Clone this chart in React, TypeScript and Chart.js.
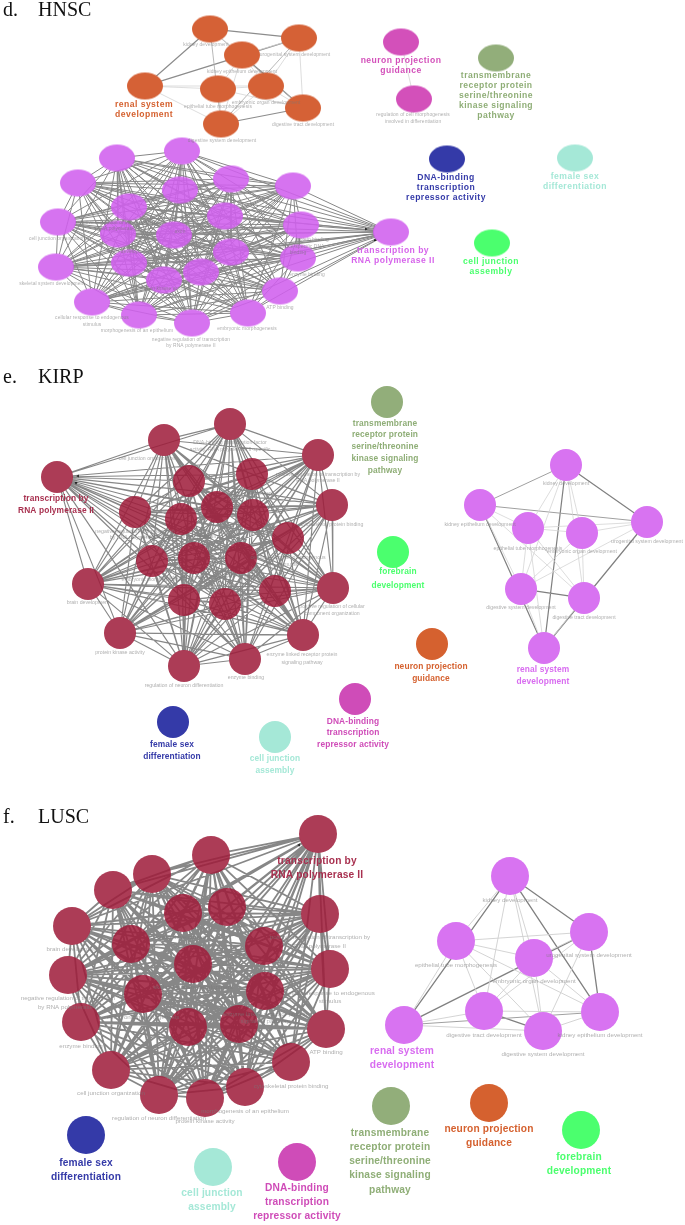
import React, { useEffect, useRef } from "react";
import { Chart, registerables } from "chart.js";

Chart.register(...registerables);

type Pair = [number, number];

// ---------- HNSC ----------
const hnscRenalX = [210, 299, 242, 145, 218, 266, 303, 221];
const hnscRenalY = [29, 38, 55, 86, 89, 86, 108, 124];
const hnscRenalStrong: Pair[] = [[3, 0], [3, 1], [0, 1], [7, 6], [2, 6]];
const hnscRenalMid: Pair[] = [[0, 7], [0, 6], [1, 7]];
const hnscRenalFaint: Pair[] = [[1, 6], [3, 4], [3, 5], [3, 7], [0, 2], [2, 4], [2, 5], [2, 7], [4, 5], [4, 7], [5, 6], [1, 5], [1, 2], [4, 6], [5, 7]];

const hnscTxX = [182, 117, 78, 231, 293, 180, 129, 225, 301, 58, 118, 174, 231, 298, 129, 56, 201, 164, 280, 92, 139, 248, 192, 391];
const hnscTxY = [151, 158, 183, 179, 186, 190, 207, 216, 225, 222, 234, 235, 252, 258, 263, 267, 272, 280, 291, 302, 315, 313, 323, 232];

const hnscSoloX = [401, 414, 496, 447, 575, 492];
const hnscSoloY = [42, 99, 58, 159, 158, 243];
const hnscSoloColors = ["#d350ba", "#d350ba", "#92ae7a", "#343aa8", "#a5e8d7", "#4bff6e"];
const hnscSoloEdge: Pair[] = [[0, 1]];

const hnscSmallText = [
  "kidney development", "urogenital system development", "kidney epithelium development", "epithelial tube morphogenesis",
  "embryonic organ development", "digestive tract development", "digestive system development",
  "regulation of cell morphogenesis", "involved in differentiation",
  "cell junction organization", "skeletal system development", "cellular response to endogenous", "stimulus",
  "morphogenesis of an epithelium", "negative regulation of transcription", "by RNA polymerase II",
  "embryonic morphogenesis", "ATP binding", "positive regulation of transcription by", "RNA polymerase II",
  "sequence-specific DNA", "binding", "enzyme binding", "protein binding", "protein kinase activity", "brain development", "axon",
];
const hnscSmallX = [206, 295, 242, 218, 266, 303, 222, 413, 413, 57, 52, 92, 92, 137, 191, 191, 247, 280, 118, 118, 298, 298, 307, 312, 164, 129, 180];
const hnscSmallY = [45, 55, 72, 107, 103, 125, 141, 115, 122, 239, 284, 318, 325, 331, 340, 346, 329, 308, 223, 229, 247, 253, 275, 240, 289, 252, 232];

const hnscBoldText = ["renal system", "development", "neuron projection", "guidance", "transmembrane", "receptor protein", "serine/threonine", "kinase signaling", "pathway", "DNA-binding", "transcription", "repressor activity", "female sex", "differentiation", "cell junction", "assembly", "transcription by", "RNA polymerase II"];
const hnscBoldX = [144, 144, 401, 401, 496, 496, 496, 496, 496, 446, 446, 446, 575, 575, 491, 491, 393, 393];
const hnscBoldY = [105, 115, 61, 71, 76, 86, 96, 106, 116, 178, 188, 198, 177, 187, 262, 272, 251, 261];
const hnscBoldColors = ["#d5612f", "#d5612f", "#d350ba", "#d350ba", "#8fae77", "#8fae77", "#8fae77", "#8fae77", "#8fae77", "#343aa8", "#343aa8", "#343aa8", "#a5e8d7", "#a5e8d7", "#4bff6e", "#4bff6e", "#d664eb", "#d664eb"];

// ---------- KIRP ----------
const kirpTxX = [57, 164, 230, 318, 252, 189, 332, 217, 135, 253, 181, 288, 152, 194, 241, 88, 333, 275, 184, 225, 120, 303, 184, 245];
const kirpTxY = [477, 440, 424, 455, 474, 481, 505, 507, 512, 515, 519, 538, 561, 558, 558, 584, 588, 591, 600, 604, 633, 635, 666, 659];

const kirpRenalX = [566, 647, 480, 528, 582, 521, 584, 544];
const kirpRenalY = [465, 522, 505, 528, 533, 589, 598, 648];
const kirpRenalStrong: Pair[] = [[0, 1], [0, 7], [1, 7], [2, 7], [5, 6]];
const kirpRenalMid: Pair[] = [[0, 2], [2, 1]];
const kirpRenalFaint: Pair[] = [[0, 3], [0, 4], [0, 5], [0, 6], [3, 4], [2, 3], [2, 5], [2, 6], [1, 3], [1, 4], [1, 5], [3, 5], [3, 6], [3, 7], [4, 5], [4, 6], [5, 7], [6, 7]];

const kirpSoloX = [387, 393, 432, 355, 275, 173];
const kirpSoloY = [402, 552, 644, 699, 737, 722];
const kirpSoloColors = ["#92ae7a", "#4bff6e", "#d5612f", "#cf4cb8", "#a5e8d7", "#343aa8"];

const kirpSmallText = [
  "cell junction organization", "DNA-binding transcription factor", "activity, RNA polymerase II-specific",
  "positive regulation of transcription by", "RNA polymerase II", "cytoskeletal protein binding",
  "negative regulation of transcription", "by RNA polymerase II", "brain development",
  "positive regulation of cellular", "component organization", "protein kinase activity",
  "enzyme linked receptor protein", "signaling pathway", "enzyme binding", "regulation of neuron differentiation",
  "cellular response to endogenous", "stimulus", "embryonic morphogenesis", "skeletal system development", "ATP binding", "morphogenesis of an epithelium", "axon development",
  "kidney development", "urogenital system development", "kidney epithelium development", "epithelial tube morphogenesis",
  "embryonic organ development", "digestive system development", "digestive tract development",
];
const kirpSmallX = [147, 230, 230, 318, 318, 332, 135, 135, 88, 332, 332, 120, 302, 302, 246, 184, 288, 288, 152, 194, 241, 181, 252, 566, 647, 480, 528, 582, 521, 584];
const kirpSmallY = [459, 443, 450, 475, 481, 525, 532, 538, 603, 607, 614, 653, 655, 663, 678, 686, 558, 565, 580, 578, 577, 537, 494, 484, 542, 525, 549, 552, 608, 618];

const kirpBoldText = ["transmembrane", "receptor protein", "serine/threonine", "kinase signaling", "pathway", "forebrain", "development", "neuron projection", "guidance", "DNA-binding", "transcription", "repressor activity", "cell junction", "assembly", "female sex", "differentiation", "transcription by", "RNA polymerase II", "renal system", "development"];
const kirpBoldX = [385, 385, 385, 385, 385, 398, 398, 431, 431, 353, 353, 353, 275, 275, 172, 172, 56, 56, 543, 543];
const kirpBoldY = [424, 435, 447, 459, 471, 572, 586, 667, 679, 722, 733, 745, 759, 771, 745, 757, 499, 511, 670, 682];
const kirpBoldColors = ["#8fae77", "#8fae77", "#8fae77", "#8fae77", "#8fae77", "#4bff6e", "#4bff6e", "#d5612f", "#d5612f", "#cf4cb8", "#cf4cb8", "#cf4cb8", "#a5e8d7", "#a5e8d7", "#343aa8", "#343aa8", "#a8304f", "#a8304f", "#d86cf0", "#d86cf0"];

// ---------- LUSC ----------
const luscTxX = [318, 211, 152, 113, 72, 183, 227, 320, 131, 264, 193, 330, 68, 143, 265, 81, 188, 239, 326, 291, 111, 159, 245, 205];
const luscTxY = [834, 855, 874, 890, 926, 913, 907, 914, 944, 946, 964, 969, 975, 994, 991, 1022, 1027, 1024, 1029, 1062, 1070, 1095, 1087, 1098];

const luscRenalX = [510, 589, 456, 534, 404, 484, 543, 600];
const luscRenalY = [876, 932, 941, 958, 1025, 1011, 1031, 1012];
const luscRenalStrong: Pair[] = [[0, 1], [0, 4], [1, 4], [0, 7], [1, 7], [5, 6]];
const luscRenalMid: Pair[] = [[4, 7]];
const luscRenalFaint: Pair[] = [[0, 2], [0, 5], [0, 3], [0, 6], [2, 1], [2, 3], [2, 4], [2, 5], [2, 6], [2, 7], [3, 5], [3, 6], [3, 7], [1, 5], [1, 6], [4, 5], [4, 6], [5, 7], [6, 7], [3, 1]];

const luscSoloX = [391, 489, 581, 297, 213, 86];
const luscSoloY = [1106, 1103, 1130, 1162, 1167, 1135];
const luscSoloColors = ["#92ae7a", "#d5612f", "#4bff6e", "#cf4cb8", "#a5e8d7", "#343aa8"];

const luscSmallText = [
  "brain development", "positive regulation of transcription by", "RNA polymerase II", "cellular response to endogenous", "stimulus",
  "negative regulation of transcription", "by RNA polymerase II", "enzyme binding", "ATP binding", "cytoskeletal protein binding",
  "cell junction organization", "regulation of neuron differentiation", "morphogenesis of an epithelium", "protein kinase activity",
  "embryonic morphogenesis", "skeletal system development", "axon development", "enzyme linked receptor protein", "signaling pathway",
  "kidney development", "urogenital system development", "epithelial tube morphogenesis", "embryonic organ development",
  "digestive tract development", "kidney epithelium development", "digestive system development",
];
const luscSmallX = [72, 320, 320, 330, 330, 68, 68, 81, 326, 291, 111, 159, 245, 205, 143, 193, 183, 265, 265, 510, 589, 456, 534, 484, 600, 543];
const luscSmallY = [949, 937, 946, 993, 1001, 998, 1007, 1046, 1052, 1086, 1093, 1118, 1111, 1121, 1017, 987, 937, 1014, 1021, 900, 955, 965, 981, 1035, 1035, 1054];

const luscBoldText = ["transcription by", "RNA polymerase II", "renal system", "development", "female sex", "differentiation", "cell junction", "assembly", "DNA-binding", "transcription", "repressor activity", "transmembrane", "receptor protein", "serine/threonine", "kinase signaling", "pathway", "neuron projection", "guidance", "forebrain", "development"];
const luscBoldX = [317, 317, 402, 402, 86, 86, 212, 212, 297, 297, 297, 390, 390, 390, 390, 390, 489, 489, 579, 579];
const luscBoldY = [861, 875, 1051, 1065, 1163, 1177, 1193, 1207, 1188, 1202, 1216, 1133, 1147, 1161, 1175, 1190, 1129, 1143, 1157, 1171];
const luscBoldColors = ["#a8304f", "#a8304f", "#d86cf0", "#d86cf0", "#343aa8", "#343aa8", "#a5e8d7", "#a5e8d7", "#cf4cb8", "#cf4cb8", "#cf4cb8", "#8fae77", "#8fae77", "#8fae77", "#8fae77", "#8fae77", "#d5612f", "#d5612f", "#4bff6e", "#4bff6e"];

// ---------- Panel titles ----------
const panelLetters = ["d.", "e.", "f."];
const panelNames = ["HNSC", "KIRP", "LUSC"];
const panelLetterX = [3, 3, 3];
const panelNameX = [38, 38, 38];
const panelY = [11, 378, 818];

// Arrow tips next to the hub of each transcription cluster
const arrowX = [366, 375, 78, 76, 299];
const arrowY = [229, 240, 476, 483, 845];
const arrowAngle = [90, 120, -90, -60, 150];

const allPairs = (n: number): Pair[] => {
  const out: Pair[] = [];
  for (let a = 0; a < n; a++) for (let b = a + 1; b < n; b++) out.push([a, b]);
  return out;
};

// Edges end on the rim of the node (rx, ry), as in the network drawing.
const edgeSet = (xs: number[], ys: number[], pairs: Pair[], color: string, width: number, rx: number, ry: number) => ({
  type: "scatter" as const,
  showLine: true,
  spanGaps: false,
  order: 5,
  borderColor: color,
  borderWidth: width,
  pointRadius: 0,
  data: pairs.flatMap(([a, b]) => {
    const dx = xs[b] - xs[a];
    const dy = ys[b] - ys[a];
    const k = 1 / Math.hypot(dx / rx, dy / ry);
    return [
      { x: xs[a] + dx * k, y: ys[a] + dy * k },
      { x: xs[b] - dx * k, y: ys[b] - dy * k },
      { x: xs[b], y: null },
    ];
  }),
});

const ellipseSprite = (color: string, rx: number, ry: number) => {
  const c = document.createElement("canvas");
  c.width = Math.ceil(rx * 2) + 2;
  c.height = Math.ceil(ry * 2) + 2;
  const g = c.getContext("2d")!;
  g.fillStyle = color;
  g.beginPath();
  g.ellipse(c.width / 2, c.height / 2, rx, ry, 0, 0, Math.PI * 2);
  g.fill();
  return c;
};

const nodeSet = (xs: number[], ys: number[], color: string | string[], radius: number) => ({
  type: "scatter" as const,
  order: 2,
  pointRadius: radius,
  pointBorderWidth: 0,
  pointBackgroundColor: color,
  data: xs.map((x, i) => ({ x, y: ys[i] })),
});

const spriteSet = (xs: number[], ys: number[], sprites: HTMLCanvasElement[]) => ({
  type: "scatter" as const,
  order: 2,
  pointStyle: sprites,
  data: xs.map((x, i) => ({ x, y: ys[i] })),
});

const textPlugin = {
  id: "networkText",
  afterDatasetsDraw(chart: any) {
    const { ctx, scales } = chart;
    const px = (v: number) => scales.x.getPixelForValue(v);
    const py = (v: number) => scales.y.getPixelForValue(v);
    const draw = (texts: string[], xs: number[], ys: number[], font: string, color: string | string[], spacing = "0px") => {
      ctx.save();
      ctx.font = font;
      ctx.textAlign = "center";
      ctx.textBaseline = "middle";
      (ctx as any).letterSpacing = spacing;
      texts.forEach((t, i) => {
        ctx.fillStyle = Array.isArray(color) ? color[i] : color;
        ctx.fillText(t, px(xs[i]), py(ys[i]));
      });
      ctx.restore();
    };
    const smallColor = "rgba(120,120,120,0.6)";
    draw(hnscSmallText, hnscSmallX, hnscSmallY, "4.9px 'Liberation Sans'", smallColor, "0.1px");
    draw(kirpSmallText, kirpSmallX, kirpSmallY, "5.2px 'Liberation Sans'", smallColor);
    draw(luscSmallText, luscSmallX, luscSmallY, "6.2px 'Liberation Sans'", smallColor);
    draw(hnscBoldText, hnscBoldX, hnscBoldY, "bold 8.6px 'Liberation Sans'", hnscBoldColors, "0.45px");
    draw(kirpBoldText, kirpBoldX, kirpBoldY, "bold 8.4px 'Liberation Sans'", kirpBoldColors, "0.12px");
    draw(luscBoldText, luscBoldX, luscBoldY, "bold 10.2px 'Liberation Sans'", luscBoldColors, "0.15px");
    ctx.save();
    ctx.font = "20px 'Liberation Serif'";
    ctx.fillStyle = "#111";
    ctx.textBaseline = "middle";
    panelLetters.forEach((t, i) => {
      ctx.fillText(t, px(panelLetterX[i]), py(panelY[i]));
      ctx.fillText(panelNames[i], px(panelNameX[i]), py(panelY[i]));
    });
    ctx.restore();
  },
};

export default function App() {
  const ref = useRef<HTMLCanvasElement>(null);

  useEffect(() => {
    if (!ref.current) return;
    const grey = "#878787";
    const orange = ellipseSprite("rgb(213,97,54)", 18, 13.5);
    const violet = ellipseSprite("rgba(208,96,238,0.88)", 18, 13.5);
    const soloSprites = hnscSoloColors.map((c) => ellipseSprite(c, 18, 13.5));
    const chart = new Chart(ref.current, {
      type: "scatter",
      data: {
        datasets: [
          edgeSet(hnscTxX, hnscTxY, allPairs(hnscTxX.length), grey, 1, 17, 13),
          edgeSet(kirpTxX, kirpTxY, allPairs(kirpTxX.length), grey, 1.15, 15.5, 15.5),
          edgeSet(luscTxX, luscTxY, allPairs(luscTxX.length), grey, 1.8, 18.5, 18.5),
          edgeSet(hnscSoloX, hnscSoloY, hnscSoloEdge, "#d4d4d4", 0.8, 17, 13),
          edgeSet(hnscRenalX, hnscRenalY, hnscRenalFaint, "#d4d4d4", 0.8, 17, 13),
          edgeSet(hnscRenalX, hnscRenalY, hnscRenalMid, "#b0b0b0", 0.9, 17, 13),
          edgeSet(hnscRenalX, hnscRenalY, hnscRenalStrong, "#8c8c8c", 1.2, 17, 13),
          edgeSet(kirpRenalX, kirpRenalY, kirpRenalFaint, "#d4d4d4", 0.8, 15.5, 15.5),
          edgeSet(kirpRenalX, kirpRenalY, kirpRenalMid, "#a0a0a0", 1, 15.5, 15.5),
          edgeSet(kirpRenalX, kirpRenalY, kirpRenalStrong, "#808080", 1.2, 15.5, 15.5),
          edgeSet(luscRenalX, luscRenalY, luscRenalFaint, "#cfcfcf", 0.9, 18.5, 18.5),
          edgeSet(luscRenalX, luscRenalY, luscRenalMid, "#a0a0a0", 1, 18.5, 18.5),
          edgeSet(luscRenalX, luscRenalY, luscRenalStrong, "#808080", 1.3, 18.5, 18.5),
          spriteSet(hnscRenalX, hnscRenalY, hnscRenalX.map(() => orange)),
          spriteSet(hnscTxX, hnscTxY, hnscTxX.map(() => violet)),
          spriteSet(hnscSoloX, hnscSoloY, soloSprites),
          nodeSet(kirpTxX, kirpTxY, "rgba(158,28,58,0.86)", 16),
          nodeSet(kirpRenalX, kirpRenalY, "rgb(216,115,241)", 16),
          nodeSet(kirpSoloX, kirpSoloY, kirpSoloColors, 16),
          nodeSet(luscTxX, luscTxY, "rgba(158,28,58,0.86)", 19),
          nodeSet(luscRenalX, luscRenalY, "rgb(216,115,241)", 19),
          nodeSet(luscSoloX, luscSoloY, luscSoloColors, 19),
          {
            type: "scatter" as const,
            order: 1,
            pointStyle: "triangle",
            pointRadius: 1.8,
            pointRotation: arrowAngle,
            pointBackgroundColor: "#222",
            pointBorderWidth: 0,
            data: arrowX.map((x, i) => ({ x, y: arrowY[i] })),
          },
        ] as any,
      },
      options: {
        responsive: false,
        animation: false,
        layout: { padding: 0, autoPadding: false },
        events: [],
        scales: {
          x: { type: "linear", min: 0, max: 685, display: false },
          y: { type: "linear", min: 0, max: 1225, reverse: true, display: false },
        },
        plugins: { legend: { display: false }, tooltip: { enabled: false }, title: { display: false } },
      },
      plugins: [textPlugin],
    });
    return () => chart.destroy();
  }, []);

  return (
    <div style={{ position: "absolute", left: 0, top: 0, width: 685, height: 1225, background: "#fff", overflow: "hidden" }}>
      <canvas ref={ref} width={685} height={1225} style={{ display: "block", filter: "blur(0.5px)" }} />
    </div>
  );
}
